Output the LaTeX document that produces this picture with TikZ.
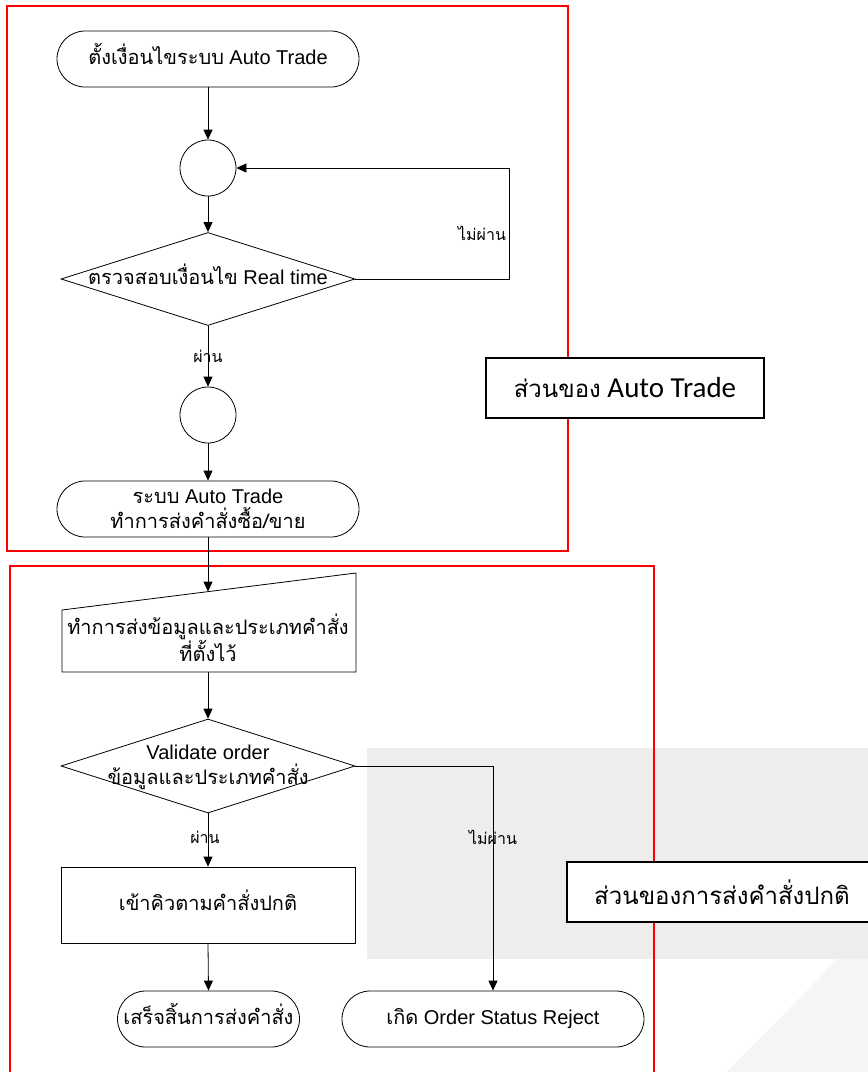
\documentclass[tikz,border=0pt]{standalone}
\usepackage{fontspec}
\setmainfont{Liberation Sans}
\newfontfamily\thai[Script=Thai]{Loma}
\newfontfamily\calfont{Carlito}
\usetikzlibrary{arrows.meta,shapes.geometric}
\definecolor{bgA}{HTML}{EEECED}
\definecolor{bgB}{HTML}{F6F5F5}
\tikzset{
  line/.style={draw=black, line width=0.8pt},
  arr/.style={line, -{Triangle[length=10pt,width=9pt]}},
  term/.style={draw, line width=0.8pt, rectangle, rounded corners=28pt, minimum height=56pt, align=center, inner sep=0pt, font=\fontsize{20}{25}\selectfont},
  one/.style={text height=14pt, text depth=4pt},
  conn/.style={draw, circle, minimum size=56pt, inner sep=0pt, line width=0.8pt},
  dec/.style={draw, diamond, inner sep=0pt, line width=0.8pt},
  proc/.style={draw, rectangle, line width=0.8pt, inner sep=0pt, align=center, font=\fontsize{20}{25}\selectfont},
  lab/.style={font=\thai\fontsize{16}{18}\selectfont, inner sep=0pt},
  txt/.style={font=\fontsize{20}{25}\selectfont, align=center, inner sep=0pt},
  frame/.style={draw=red, line width=1.8pt},
  part/.style={draw, fill=white, line width=1.3pt, inner sep=0pt}
}
\begin{document}
\begin{tikzpicture}[x=1pt,y=-1pt]
\useasboundingbox (0,0) rectangle (868,1072);
\clip (0,0) rectangle (868,1072);
\fill[white] (0,0) rectangle (868,1072);
% background watermark
\fill[bgA] (367,748) rectangle (870,959);
\fill[bgB] (838,959) -- (870,959) -- (870,1072) -- (727,1072) -- cycle;

% frames
\draw[frame] (7,6) rectangle (568,551);
\draw[frame] (10,1080) -- (10,566) -- (654,566) -- (654,1080);

% top part
\node[term, one, minimum width=302pt] (start) at (208,59) {{\thai ตั้งเงื่อนไขระบบ} Auto Trade};
\node[conn] (c1) at (208,168) {};
\node[dec, minimum width=294pt, minimum height=93pt] (d1) at (208,279) {};
\node[txt, one] (d1t) at (208,279) {{\thai ตรวจสอบเงื่อนไข} Real time};
\node[conn] (c2) at (208,415) {};
\node[term, minimum width=302pt] (t2) at (208,509) {{\thai ระบบ} Auto Trade\\{\thai ทำการส่งคำสั่งซื้อ/ขาย}};

\draw[arr] (start.south) -- (c1.north);
\draw[arr] (c1.south) -- (d1.north);
\draw[arr] (d1.east) -- ++(154,0) |- (c1.east);
\node[lab] (l1) at (482,233) {ไม่ผ่าน};
\draw[arr] (d1.south) -- (c2.north);
\node[lab] (l2) at (208,356) {ผ่าน};
\draw[arr] (c2.south) -- (t2.north);

% bottom part
\coordinate (m1) at (62,610);
\coordinate (m2) at (356,573);
\coordinate (m3) at (356,672);
\coordinate (m4) at (62,672);
\draw[line] (m1) -- (m2) -- (m3) -- (m4) -- cycle;
\coordinate (mtop) at (208,591.6);
\coordinate (mbot) at (208,672);
\node[txt] (mt) at (208,638) {{\thai ทำการส่งข้อมูลและประเภทคำสั่ง}\\{\thai ที่ตั้งไว้}};
\draw[arr] (t2.south) -- (mtop);

\node[dec, minimum width=294pt, minimum height=94pt] (d2) at (208,766) {};
\node[txt] (d2t) at (208,767) {Validate order\\{\thai ข้อมูลและประเภทคำสั่ง}};
\draw[arr] (mbot) -- (d2.north);

\node[proc, one, minimum width=294pt, minimum height=76pt] (p1) at (208,905) {{\thai เข้าคิวตามคำสั่งปกติ}};
\draw[arr] (d2.south) -- (p1.north);
\node[lab] (l3) at (205,837) {ผ่าน};

\node[term, one, minimum width=182pt] (t3) at (208.5,1019) {{\thai เสร็จสิ้นการส่งคำสั่ง}};
\node[term, one, minimum width=302pt] (t4) at (493,1019) {{\thai เกิด} Order Status Reject};
\draw[arr] (p1.south) -- (t3.north);
\draw[arr] (d2.east) -| (t4.north);
\node[lab] (l4) at (493,837) {ไม่ผ่าน};

% part labels
\node[part, minimum width=278pt, minimum height=60pt] (pa) at (625,388) {{\thai\fontsize{24}{30}\selectfont ส่วนของ}{\calfont\fontsize{29}{30}\selectfont\ Auto Trade}};
\node[part, minimum width=310pt, minimum height=60pt] (pb) at (722,892) {\thai\fontsize{24}{30}\selectfont ส่วนของการส่งคำสั่งปกติ};
\end{tikzpicture}
\end{document}
